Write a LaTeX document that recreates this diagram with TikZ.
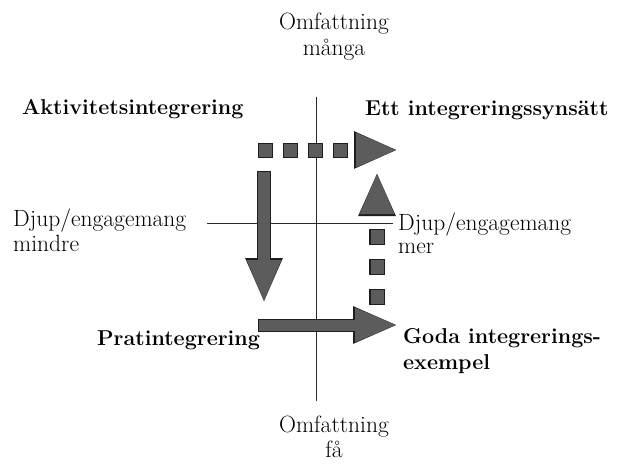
\documentclass[tikz,border=0pt]{standalone}
\usetikzlibrary{arrows.meta}
\definecolor{arrowgray}{RGB}{92,92,92}
\definecolor{arrowedge}{RGB}{30,30,30}
\definecolor{axisgray}{RGB}{40,40,40}
\begin{document}
\begin{tikzpicture}[x=1pt,y=-1pt,
  reg/.style={inner sep=0pt,font=\fontsize{23.5}{28}\selectfont},
  bld/.style={inner sep=0pt,font=\fontsize{21.5}{26}\selectfont\bfseries},
  axis/.style={draw=axisgray,line width=1pt},
  solidedge/.style={draw=arrowedge,line width=14pt,shorten <=-1pt,-{Triangle[length=45pt,width=34pt]}},
  solidarrow/.style={draw=arrowgray,line width=12pt,-{Triangle[length=43pt,width=31pt]}},
  dashedge/.style={draw=arrowedge,line width=15pt,shorten <=-1pt,-{Triangle[length=44pt,width=34pt]}},
  dasharrow/.style={draw=arrowgray,line width=13pt,-{Triangle[length=42pt,width=31pt]}}
]
\useasboundingbox (0,0) rectangle (620,463);
% axes
\coordinate (vtop) at (316,97);
\coordinate (vbot) at (316,401);
\coordinate (hleft) at (207,223);
\coordinate (hright) at (393,223);
\draw[axis] (vtop) -- (vbot);
\draw[axis] (hleft) -- (hright);
% labels
\node[reg,anchor=base] (omt1) at (334,29) {Omfattning};
\node[reg,anchor=base] (omt2) at (334,55) {många};
\node[bld,anchor=base west] (akt) at (22,114) {Aktivitetsintegrering};
\node[bld,anchor=base west] (ett) at (365,115) {Ett integreringssynsätt};
\node[reg,anchor=base west] (djl1) at (13,226) {Djup/engagemang};
\node[reg,anchor=base west] (djl2) at (13,251) {mindre};
\node[reg,anchor=base west] (djr1) at (398,230) {Djup/engagemang};
\node[reg,anchor=base west] (djr2) at (398,253) {mer};
\node[bld,anchor=base west] (prat) at (97,345) {Pratintegrering};
\node[bld,anchor=base west] (goda1) at (403,343) {Goda integrerings-};
\node[bld,anchor=base west] (goda2) at (403,369) {exempel};
\node[reg,anchor=base] (omb1) at (334,432) {Omfattning};
\node[reg,anchor=base] (omb2) at (334,457) {få};
% arrows
\coordinate (a1s) at (259,150);
\coordinate (a1e) at (398,150);
\coordinate (a2s) at (264,172);
\coordinate (a2e) at (264,303);
\coordinate (a3s) at (259,325);
\coordinate (a3e) at (398,325);
\coordinate (a4s) at (377,304);
\coordinate (a4e) at (377,172);
\draw[dashedge,dash pattern=on 15pt off 10pt] (a1s) -- (a1e);
\draw[dasharrow,dash pattern=on 13pt off 12pt] (a1s) -- (a1e);
\draw[solidedge] (a2s) -- (a2e);
\draw[solidarrow] (a2s) -- (a2e);
\draw[solidedge,line width=13pt] (a3s) -- (a3e);
\draw[solidarrow,line width=11pt] (a3s) -- (a3e);
\draw[dashedge,line width=16pt,dash pattern=on 16pt off 14pt] (a4s) -- (a4e);
\draw[dasharrow,dash pattern=on 14pt off 16pt] (a4s) -- (a4e);
\end{tikzpicture}
\end{document}
